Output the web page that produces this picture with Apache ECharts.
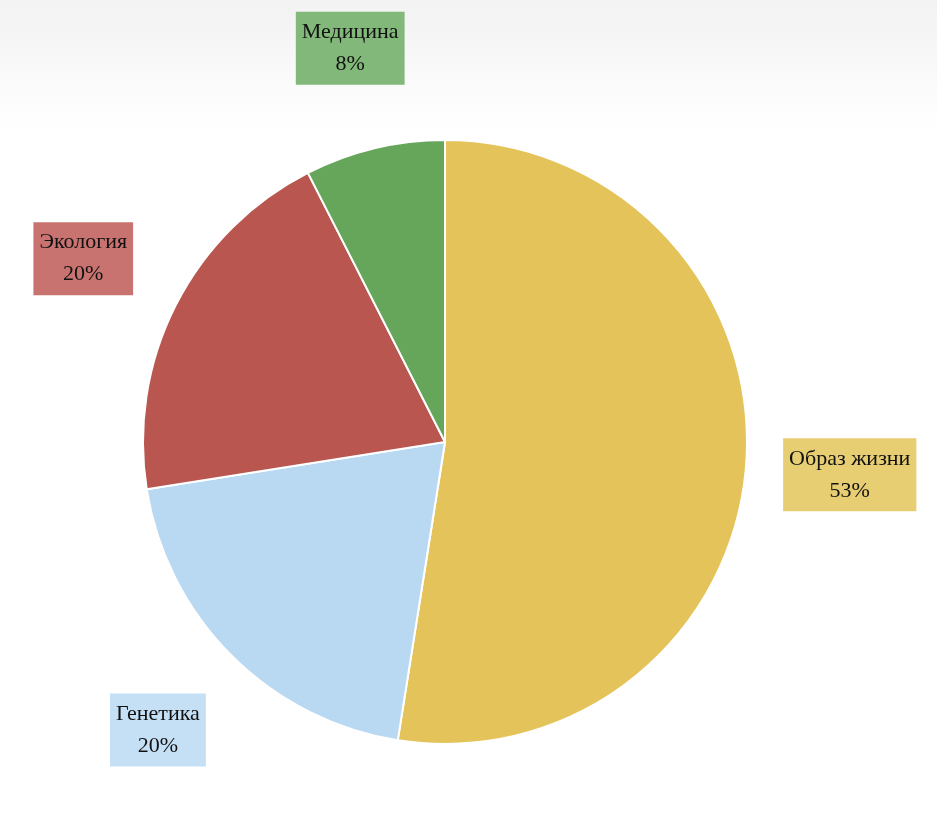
<!DOCTYPE html>
<html>
<head>
<meta charset="utf-8">
<script src="https://cdn.jsdelivr.net/npm/echarts@6/dist/echarts.min.js"></script>
<style>
html,body{margin:0;padding:0;background:#fff;}
#chart{width:937px;height:816px;}
</style>
</head>
<body>
<div id="chart"></div>
<script>
const categories = ['Образ жизни', 'Генетика', 'Экология', 'Медицина'];
const values = [52.5, 20, 20, 7.5];
const sliceColors = ['#E3C35A', '#B9D8F2', '#BA5650', '#65A65A'];
const labelColors = ['#E8CE72', '#C5E0F5', '#C97371', '#82B879'];

const chart = echarts.init(document.getElementById('chart'));
const total = values.reduce((a, b) => a + b, 0);
const pieData = categories.map((c, i) => ({ name: c, value: values[i], itemStyle: { color: sliceColors[i] } }));
const labelData = categories.map((c, i) => ({
  name: c, value: values[i],
  itemStyle: { color: 'rgba(0,0,0,0)' },
  label: { backgroundColor: labelColors[i] }
}));

chart.setOption({
  animation: false,
  graphic: [{
    type: 'rect', z: -10, silent: true,
    shape: { x: 0, y: 0, width: 937, height: 130 },
    style: { fill: new echarts.graphic.LinearGradient(0, 0, 0, 1, [
      { offset: 0, color: '#F2F2F2' },
      { offset: 1, color: '#FFFFFF' }
    ]) }
  }],
  series: [
    {
      type: 'pie',
      center: [445, 442],
      radius: [0, 302],
      startAngle: 90,
      clockwise: true,
      silent: true,
      data: pieData,
      label: { show: false },
      labelLine: { show: false },
      itemStyle: { borderColor: '#FFFFFF', borderWidth: 2 }
    },
    {
      type: 'pie',
      center: [445, 443],
      radius: [396, 410],
      startAngle: 90,
      clockwise: true,
      silent: true,
      data: labelData,
      labelLine: { show: false },
      label: {
        show: true,
        position: 'inside',
        rotate: 0,
        formatter: p => p.name + '\n' + Math.round(p.value / total * 100) + '%',
        fontFamily: 'Liberation Serif',
        fontSize: 22,
        lineHeight: 32,
        color: '#111111',
        align: 'center',
        padding: [5, 6, 4, 6]
      }
    }
  ]
});
</script>
</body>
</html>
